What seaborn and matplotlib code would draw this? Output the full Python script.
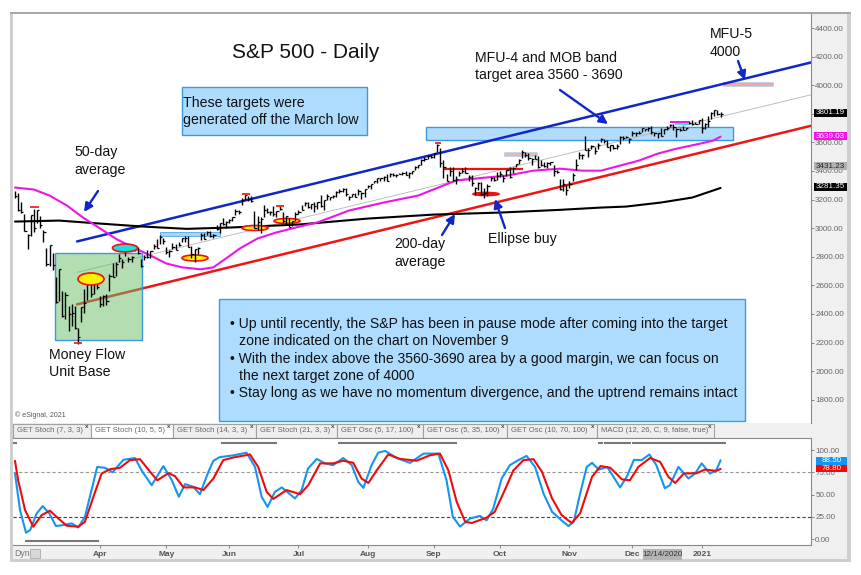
import numpy as np
import matplotlib
matplotlib.use("Agg")
import matplotlib.pyplot as plt
from matplotlib.patches import Rectangle, Ellipse
from matplotlib.transforms import Affine2D
import seaborn as sns

# daily bars, one row per month (Feb 24 2020 .. Jan 12 2021)
closes = [3225, 3128, 3116, 2979, 2954,
          3090, 3003, 3130, 3023, 2972, 2746, 2882, 2741, 2480, 2711, 2386, 2529, 2398, 2409, 2305, 2237, 2447, 2476, 2630, 2541, 2627, 2585,
          2471, 2527, 2489, 2664, 2659, 2750, 2790, 2762, 2847, 2783, 2800, 2875, 2823, 2737, 2799, 2798, 2837, 2878, 2863, 2939, 2912,
          2830, 2842, 2868, 2848, 2881, 2929, 2930, 2870, 2820, 2852, 2863, 2953, 2922, 2971, 2948, 2955, 2991, 3036, 3030, 3044,
          3056, 3081, 3122, 3112, 3194, 3232, 3207, 3190, 3002, 3041, 3066, 3125, 3114, 3115, 3098, 3117, 3131, 3050, 3084, 3009, 3053, 3100,
          3116, 3130, 3179, 3145, 3170, 3152, 3185, 3155, 3197, 3226, 3215, 3225, 3251, 3257, 3276, 3236, 3215, 3239, 3218, 3258, 3246, 3271,
          3294, 3306, 3327, 3349, 3351, 3360, 3333, 3380, 3373, 3372, 3382, 3389, 3374, 3385, 3397, 3431, 3443, 3478, 3485, 3508, 3500,
          3527, 3581, 3455, 3427, 3332, 3399, 3339, 3341, 3383, 3401, 3385, 3357, 3319, 3282, 3315, 3237, 3247, 3298, 3351, 3335, 3363,
          3381, 3348, 3409, 3361, 3419, 3447, 3477, 3534, 3512, 3489, 3483, 3484, 3427, 3443, 3436, 3453, 3465, 3401, 3391, 3271, 3310, 3270,
          3310, 3370, 3444, 3510, 3509, 3550, 3545, 3572, 3537, 3585, 3627, 3610, 3568, 3582, 3558, 3577, 3635, 3630, 3638, 3622,
          3663, 3669, 3666, 3699, 3692, 3702, 3673, 3668, 3663, 3647, 3695, 3702, 3722, 3709, 3695, 3687, 3690, 3703, 3735, 3727, 3732, 3756,
          3701, 3727, 3748, 3804, 3825, 3799, 3801]
highs = [3259, 3246, 3182, 3097, 2959,
         3090, 3136, 3130, 3083, 2985, 2863, 2882, 2825, 2660, 2711, 2562, 2553, 2453, 2466, 2453, 2300, 2449, 2571, 2637, 2615, 2631, 2642,
         2522, 2533, 2538, 2677, 2756, 2760, 2819, 2782, 2852, 2801, 2807, 2880, 2868, 2785, 2815, 2844, 2842, 2887, 2921, 2954, 2930,
         2869, 2844, 2898, 2891, 2901, 2932, 2945, 2945, 2874, 2852, 2865, 2968, 2964, 2980, 2978, 2956, 3021, 3036, 3068, 3050,
         3063, 3081, 3131, 3129, 3211, 3233, 3223, 3223, 3123, 3088, 3079, 3165, 3141, 3121, 3155, 3119, 3155, 3115, 3086, 3074, 3053, 3112,
         3128, 3165, 3183, 3184, 3172, 3180, 3186, 3235, 3200, 3238, 3221, 3234, 3258, 3277, 3279, 3279, 3227, 3242, 3243, 3272, 3250, 3272,
         3302, 3307, 3331, 3352, 3352, 3364, 3381, 3387, 3387, 3378, 3387, 3395, 3399, 3390, 3399, 3432, 3444, 3481, 3501, 3510, 3514,
         3529, 3588, 3564, 3479, 3379, 3425, 3425, 3368, 3402, 3419, 3429, 3375, 3369, 3286, 3320, 3323, 3279, 3306, 3361, 3358, 3393,
         3398, 3370, 3410, 3431, 3427, 3447, 3482, 3550, 3534, 3528, 3489, 3515, 3508, 3476, 3465, 3461, 3466, 3441, 3409, 3342, 3342, 3305,
         3330, 3389, 3486, 3530, 3521, 3646, 3558, 3581, 3569, 3593, 3628, 3624, 3619, 3585, 3582, 3590, 3643, 3643, 3644, 3634,
         3679, 3670, 3682, 3700, 3697, 3708, 3713, 3672, 3665, 3698, 3695, 3712, 3726, 3726, 3702, 3703, 3712, 3703, 3750, 3756, 3744, 3760,
         3770, 3735, 3784, 3811, 3826, 3823, 3811]
lows = [3214, 3118, 3108, 2977, 2855,
        2945, 2976, 3034, 2999, 2901, 2734, 2734, 2707, 2478, 2492, 2380, 2367, 2280, 2319, 2295, 2191, 2345, 2407, 2500, 2520, 2540, 2571,
        2447, 2455, 2459, 2558, 2657, 2664, 2762, 2721, 2805, 2761, 2764, 2842, 2820, 2727, 2775, 2794, 2791, 2853, 2860, 2891, 2892,
        2821, 2797, 2852, 2844, 2877, 2902, 2903, 2869, 2793, 2766, 2820, 2915, 2922, 2953, 2938, 2933, 2988, 2969, 3024, 2998,
        3033, 3051, 3090, 3101, 3163, 3196, 3191, 3181, 2999, 2984, 2965, 3076, 3108, 3094, 3084, 3078, 3127, 3033, 3024, 3005, 3014, 3047,
        3101, 3124, 3155, 3143, 3137, 3116, 3136, 3149, 3128, 3200, 3198, 3208, 3216, 3247, 3250, 3222, 3200, 3219, 3216, 3229, 3204, 3220,
        3284, 3275, 3318, 3317, 3328, 3329, 3327, 3355, 3363, 3361, 3379, 3370, 3369, 3354, 3379, 3404, 3419, 3444, 3468, 3484, 3493,
        3494, 3535, 3427, 3349, 3329, 3366, 3329, 3310, 3363, 3389, 3385, 3328, 3293, 3229, 3270, 3232, 3209, 3228, 3333, 3327, 3340,
        3361, 3323, 3368, 3354, 3385, 3426, 3450, 3493, 3501, 3477, 3441, 3484, 3419, 3435, 3428, 3424, 3440, 3364, 3388, 3269, 3259, 3234,
        3279, 3328, 3405, 3484, 3484, 3547, 3495, 3557, 3518, 3552, 3600, 3594, 3567, 3543, 3557, 3552, 3592, 3619, 3630, 3594,
        3645, 3645, 3657, 3670, 3678, 3678, 3660, 3645, 3634, 3645, 3660, 3690, 3710, 3685, 3637, 3681, 3686, 3689, 3727, 3723, 3730, 3726,
        3663, 3696, 3705, 3764, 3784, 3792, 3777]

ma50_x = [0, 6, 11, 16.5, 21.6, 27, 32.4, 37.5, 43, 48, 53, 59, 63, 67, 71.4, 77, 83, 90.5, 96, 101, 106, 117, 128, 136, 140, 149, 156, 164.5, 173, 180, 186, 192, 198, 204, 210, 217.5, 221.6, 224]
ma50_y = [3284, 3270, 3228, 3158, 3074, 2998, 2921, 2865, 2809, 2753, 2726, 2712, 2726, 2788, 2858, 2928, 2970, 3012, 3040, 3081, 3123, 3179, 3228, 3298, 3333, 3353, 3367, 3402, 3416, 3402, 3402, 3437, 3472, 3521, 3556, 3591, 3612, 3640]
ma200_x = [0, 14, 27, 40, 54.5, 69, 90.5, 112, 133, 154, 173, 186, 194, 205, 215, 224]
ma200_y = [3046, 3053, 3032, 3012, 2995, 3005, 3026, 3067, 3095, 3109, 3128, 3144, 3151, 3179, 3214, 3281]

trend_x = [19.7, 252.7]
upper_trend = [2907, 4159]
mid_trend = [2691, 3933]
lower_trend = [2467, 3716]

stoch_x = [0, 1.6, 3.5, 4.8, 6.9, 8.8, 10.9, 13, 15.3, 18, 20.1, 22.2, 24.3, 26.1, 28.6, 31, 34.4, 38.1, 40.2, 43.4, 47.1, 49.8, 52, 54, 56.6, 58.7, 61.4, 63, 65, 69.3, 73.5, 76.2, 78.3, 80.2, 82.5, 84.7, 88.9, 91, 93, 95.8, 98.4, 101, 104.2, 106.9, 109, 110.6, 113.2, 115.3, 117.5, 121.2, 125.4, 129.7, 131.7, 134.4, 137, 139, 141.3, 144.4, 147.6, 149.7, 151.8, 154.5, 157.1, 159.8, 162.4, 165.1, 167.8, 170.5, 173.5, 175.7, 177.4, 179.4, 181.5, 183.2, 185.3, 188, 192.1, 194.2, 196.5, 198.9, 201.4, 203.6, 206.3, 207.9, 210.6, 213.8, 215.9, 218, 220.6, 222.6, 224]
stoch_k = [73.6, 32.5, 7.1, 10, 28.8, 37, 28.8, 14.6, 15.7, 17.6, 13, 25, 55, 81, 80, 75, 89, 91, 77, 60.5, 82, 66, 47.5, 61.7, 58.7, 50.4, 75.5, 88, 92, 94, 97, 81, 47.5, 36, 53, 58, 45.6, 55, 79, 90, 85, 83, 91, 83, 64, 57.5, 83, 97, 99, 91, 85.6, 96, 96, 96, 66, 25, 14, 23, 26, 21, 34, 68, 83, 88.6, 93.4, 81, 51, 30.6, 21, 14.6, 19.4, 51, 81, 85.6, 78, 81, 58, 70, 89, 88.6, 95, 83, 57, 60.5, 81, 68, 73.6, 85, 73.6, 77, 88.5]
signal_x = [0, 1, 3.2, 5.8, 8.5, 11.1, 13.8, 16.4, 20.1, 22.2, 24.9, 27.5, 30.2, 33.3, 36.5, 39.7, 42.9, 45.2, 48.7, 50.8, 53.5, 57.2, 59.8, 63, 66.1, 69.3, 74.6, 77.2, 79.9, 82, 86.2, 90.5, 93.1, 96.9, 101, 104.2, 107.4, 110, 112.2, 114.8, 118.5, 122.2, 127.5, 131.7, 134.9, 137.6, 140.2, 142.9, 145, 149.7, 152.3, 155.5, 158.2, 161.4, 164.6, 167.3, 170.5, 173.5, 176.7, 179.4, 183.2, 185.9, 189, 192.7, 195.2, 197.9, 201.6, 204.8, 207.4, 209.6, 212.3, 216.4, 219, 222.6, 224]
signal_d = [87.8, 66, 32.5, 13.8, 27, 31.8, 23, 15, 13.8, 19.4, 47.5, 73.6, 78.5, 80, 88.6, 89.7, 75.5, 66, 74, 70.6, 58, 58, 55, 68, 88.6, 91.6, 95, 81, 53, 45, 55, 50.4, 60.5, 85, 85, 88, 85.6, 68, 63, 77, 95, 90, 88, 94, 96, 77, 42, 19.4, 18, 24, 30.6, 55, 77, 88.6, 89.7, 75.5, 45.6, 27, 18, 28.8, 70, 82, 80, 67, 66, 81, 91, 86.7, 70, 63, 73.6, 74, 78, 76.6, 78.8]

price_ticks = [1800, 2000, 2200, 2400, 2600, 2800, 3000, 3200, 3400, 3600, 3800, 4000, 4200, 4400]
osc_ticks = [0, 25, 50, 75, 100]
month_pos = [27, 48, 68, 90, 112, 133, 154, 176, 196, 218]
month_names = ["Apr", "May", "Jun", "Jul", "Aug", "Sep", "Oct", "Nov", "Dec", "2021"]
tab_names = ["GET Stoch (7, 3, 3)", "GET Stoch (10, 5, 5)", "GET Stoch (14, 3, 3)", "GET Stoch (21, 3, 3)",
             "GET Osc (5, 17, 100)", "GET Osc (5, 35, 100)", "GET Osc (10, 70, 100)", "MACD (12, 26, C, 9, false, true)"]
tab_edges = [13, 91, 173, 256, 337, 423, 507, 597, 714]

sns.set_style("white")
plt.rcParams["font.family"] = ["Liberation Sans", "DejaVu Sans"]

W, H = 862, 575
fig = plt.figure(figsize=(W / 100, H / 100), dpi=100, facecolor="white")
# annotations are placed in screenshot pixels
PX = Affine2D().scale(1 / W, -1 / H).translate(0, 1) + fig.transFigure


def fig_rect(x0, y0, x1, y1, fc, ec="none", z=-5, lw=0.8):
    fig.add_artist(Rectangle((x0, y0), x1 - x0, y1 - y0, transform=PX, fc=fc, ec=ec, lw=lw, zorder=z))


def box(ax, x0, y0, x1, y1, fc, ec="#3a9ae0", z=1.5, lw=1):
    ax.add_patch(Rectangle((x0, y0), x1 - x0, y1 - y0, transform=PX, fc=fc, ec=ec, lw=lw, zorder=z, clip_on=False))


def oval(ax, x, y, w, h, fc, z=6):
    ax.add_patch(Ellipse((x, y), w, h, transform=PX, fc=fc, ec="#f01010", lw=1.2, zorder=z))


def seg(ax, x0, x1, y, color, lw=1.5, z=6):
    ax.plot([x0, x1], [y, y], transform=PX, color=color, lw=lw, zorder=z, solid_capstyle="butt", clip_on=False)


def note(ax, x, y, s, size=10.2, color="#111111", **kw):
    ax.text(x, y, s, transform=PX, fontsize=size, color=color, va="center", ha=kw.pop("ha", "left"),
            zorder=12, clip_on=False, **kw)


def arrow(ax, x0, y0, x1, y1):
    ax.annotate("", xy=(x1, y1), xytext=(x0, y0), xycoords=PX, textcoords=PX, zorder=11,
                arrowprops=dict(arrowstyle="-|>,head_width=0.25,head_length=0.5", color="#1226c8", lw=1.7,
                                shrinkA=0, shrinkB=0))


# chrome around the two panes
fig_rect(13, 13, 847, 561, "#f0f0f0")
fig_rect(10, 12, 13, 562, "#cfcfcf")
fig_rect(847, 12, 851, 562, "#cfcfcf")
fig_rect(10, 559, 851, 562, "#cfcfcf")
fig_rect(10, 12, 851, 14, "#a8a8a8")

ax = fig.add_axes([13 / W, 1 - 423 / H, 798 / W, 409 / H], facecolor="white")
osc = fig.add_axes([13 / W, 1 - 545 / H, 798 / W, 107 / H], facecolor="white")

sessions = np.arange(len(closes))
ax.set_xlim(-0.63, 252.7)
ax.set_ylim(1637, 4498)

# green base box sits over the trend lines, which is why red turns brown in it
box(ax, 55, 253, 142, 340, (0.40, 0.75, 0.40, 0.5), z=3)
box(ax, 426, 127, 733, 140, "#b3dcfa")
box(ax, 219, 299, 745, 421, "#aedcfe", z=8)
box(ax, 182, 87, 367, 135, "#aedcfe", z=8)
box(ax, 160, 232, 220, 236, "#a9d4f7", lw=0.5)
box(ax, 723, 82, 773, 86, "#f4a6a0", ec="#a9d4f7", lw=0.5)
box(ax, 504, 152, 537, 156, "#f4b3a8", ec="#a9d4f7", lw=0.5)

sns.lineplot(x=trend_x, y=mid_trend, ax=ax, color="#b5b5b5", linewidth=0.6, zorder=2)
sns.lineplot(x=trend_x, y=upper_trend, ax=ax, color="#1226c8", linewidth=1.8, zorder=2)
sns.lineplot(x=trend_x, y=lower_trend, ax=ax, color="#ee1515", linewidth=1.8, zorder=2)
sns.lineplot(x=ma200_x, y=ma200_y, ax=ax, color="#000000", linewidth=1.5, zorder=2.5)
sns.lineplot(x=ma50_x, y=ma50_y, ax=ax, color="#f014e6", linewidth=1.5, zorder=2.5)

ax.vlines(sessions, lows, highs, color="black", lw=1.0, zorder=5)
ax.hlines(closes, sessions, sessions + 0.7, color="black", lw=0.9, zorder=5)

oval(ax, 91, 279, 26, 12, "#fff200")
oval(ax, 125, 248, 25, 8, "#14e0e0")
oval(ax, 195, 258, 26, 6, "#fff200", z=4)
oval(ax, 255, 228, 26, 5, "#fff200", z=4)
oval(ax, 287, 221, 26, 5, "#fff200", z=4)
oval(ax, 486, 194, 26, 3, "#f01010", z=4)
for x0, x1, y in [(30, 39, 207), (74, 82, 343), (242, 250, 194), (276, 284, 206), (435, 441, 143)]:
    seg(ax, x0, x1, y, "#f01010", 1.2)
seg(ax, 443, 523, 169, "#f01010", 1.6, z=4)
seg(ax, 670, 689, 122, "#f014e6", 1.4)
seg(ax, 675, 689, 123.5, "#14e0e0", 1.2)

note(ax, 232, 53, "S&P 500 - Daily", size=15)
note(ax, 475, 58, "MFU-4 and MOB band", size=10.2)
note(ax, 475, 75, "target area 3560 - 3690", size=10.2)
note(ax, 710, 34, "MFU-5", size=10.2)
note(ax, 710, 52, "4000", size=10.2)
note(ax, 74, 152, "50-day", size=10.2)
note(ax, 74, 170, "average", size=10.2)
note(ax, 183, 103, "These targets were", size=10.2)
note(ax, 183, 120, "generated off the March low", size=10.2)
note(ax, 394, 244, "200-day", size=10.2)
note(ax, 394, 262, "average", size=10.2)
note(ax, 488, 239, "Ellipse buy", size=10.2)
note(ax, 49, 355, "Money Flow", size=10.2)
note(ax, 49, 372, "Unit Base", size=10.2)
note(ax, 230, 324, "• Up until recently, the S&P has been in pause mode after coming into the target", size=10.1)
note(ax, 239, 341, "zone indicated on the chart on November 9", size=10.1)
note(ax, 230, 359, "• With the index above the 3560-3690 area by a good margin, we can focus on", size=10.1)
note(ax, 239, 376, "the next target zone of 4000", size=10.1)
note(ax, 230, 393, "• Stay long as we have no momentum divergence, and the uptrend remains intact", size=10.1)
note(ax, 15, 415, "© eSignal, 2021", size=5, color="#555555")

arrow(ax, 98, 191, 84, 212)
arrow(ax, 442, 235, 455, 214)
arrow(ax, 505, 228, 495, 199)
arrow(ax, 560, 90, 608, 124)
arrow(ax, 738, 61, 745, 80)

ax.set_xticks([])
ax.set_yticks(price_ticks)
# the 3800 label sits fully under the last-price flag
ax.set_yticklabels(["" if t == 3800 else f"{t:.2f}" for t in price_ticks])
ax.yaxis.tick_right()
ax.tick_params(axis="y", right=True, length=2, width=0.6, color="#777777", labelcolor="#666666", labelsize=5.8, pad=1)
for side, sp in ax.spines.items():
    sp.set_visible(side == "right")
    sp.set_color("#8a8a8a")
    sp.set_linewidth(0.8)

# current-value flags on the price scale
for y, s, fc, tc in [(113, "3801.19", "#000000", "white"), (136, "3639.03", "#f014e6", "white"),
                     (166, "3431.23", "#b0b0b0", "#222222"), (187, "3281.35", "#000000", "white")]:
    box(ax, 814, y - 4, 847, y + 4, fc, ec="none", z=9)
    note(ax, 830.5, y, s, size=5.8, color=tc, ha="center")

# indicator tabs
for i, name in enumerate(tab_names):
    x0, x1 = tab_edges[i], tab_edges[i + 1]
    fig_rect(x0, 424, x1, 438, "white" if i == 1 else "#eeeeee", ec="#a0a0a0", z=-4)
    fig.text(x0 + 4, 431, name, transform=PX, fontsize=5.5, color="#666666", va="center")
    fig.text(x1 - 4, 426.5, "x", transform=PX, fontsize=4.5, color="#444444", va="center", ha="center", weight="bold")

osc.set_xlim(-0.63, 252.7)
osc.set_ylim(-6.7, 113.5)
osc.axhline(75, color="#999999", lw=0.8, ls=(0, (3, 2)), zorder=1)
osc.axhline(25, color="#444444", lw=0.8, ls=(0, (3, 2)), zorder=1)
sns.lineplot(x=stoch_x, y=stoch_k, ax=osc, color="#1496f0", linewidth=1.5, zorder=3)
sns.lineplot(x=signal_x, y=signal_d, ax=osc, color="#f00a0a", linewidth=1.5, zorder=4)
for x0, x1 in [(13, 17), (221, 277), (338, 457), (598, 603), (604, 631), (632, 726)]:
    seg(osc, x0, x1, 443, "#777777", 1.5)
seg(osc, 25, 99, 541, "#777777", 1.5)

osc.set_xticks(month_pos)
osc.set_xticklabels(month_names)
osc.set_yticks(osc_ticks)
osc.set_yticklabels([f"{t:.2f}" for t in osc_ticks])
osc.yaxis.tick_right()
osc.tick_params(axis="y", right=True, length=2, width=0.6, color="#777777", labelcolor="#666666", labelsize=5.8, pad=1)
osc.tick_params(axis="x", bottom=True, length=2, width=0.6, color="#777777", labelcolor="#555555", labelsize=6, pad=2)
for label in osc.get_xticklabels():
    label.set_fontweight("bold")
for side, sp in osc.spines.items():
    sp.set_visible(side in ("right", "bottom", "top"))
    sp.set_color("#8a8a8a")
    sp.set_linewidth(0.8)

for y, s, fc in [(460.7, "88.50", "#1496f0"), (468.5, "78.80", "#f00a0a")]:
    box(osc, 816, y - 3.9, 847, y + 3.9, fc, ec="none", z=9)
    note(osc, 831.5, y, s, size=5.8, color="white", ha="center")
box(osc, 643, 549, 682, 560, "#b4b4b4", ec="none", z=9)
note(osc, 662.5, 554.5, "12/14/2020", size=5.8, color="#333333", ha="center")
note(osc, 14, 553, "Dyn", size=6.3, color="#777777")
box(osc, 30, 549, 40, 558, "#d8d8d8", ec="#a0a0a0", z=9, lw=0.5)

fig.savefig("out.png", dpi=100)
